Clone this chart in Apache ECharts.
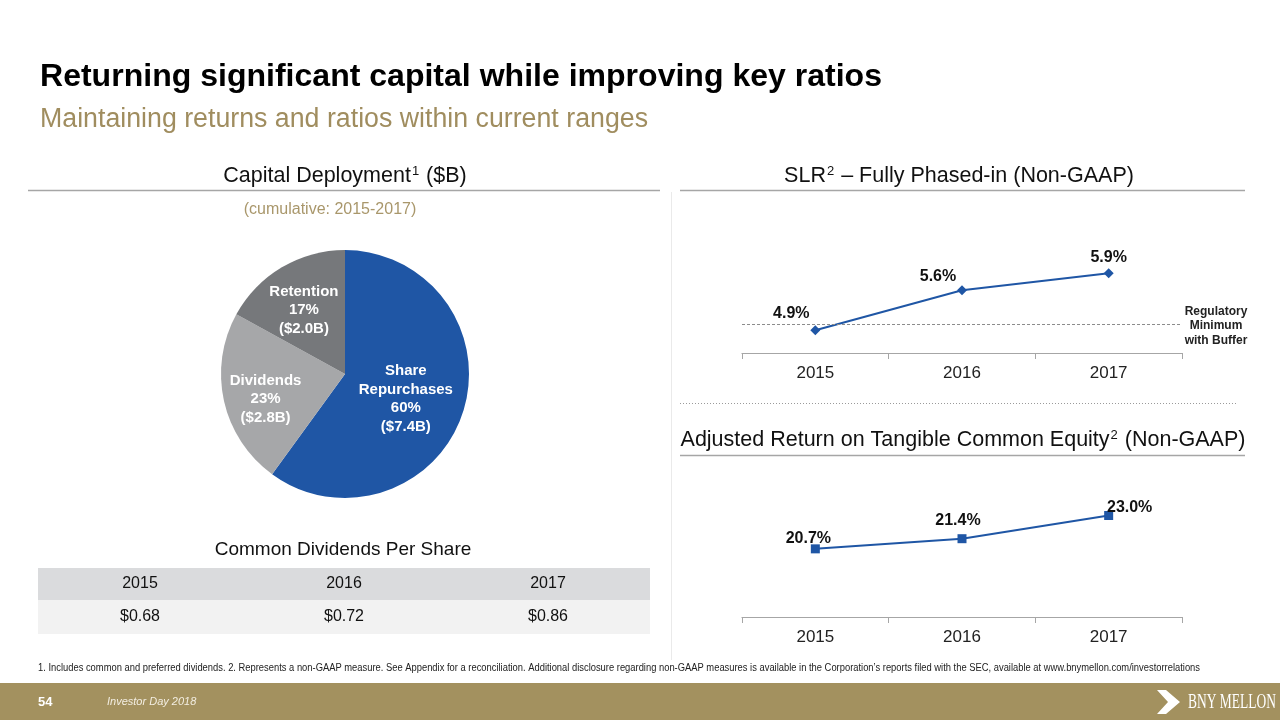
<!DOCTYPE html>
<html>
<head>
<meta charset="utf-8">
<script src="https://cdn.jsdelivr.net/npm/echarts@6/dist/echarts.min.js"></script>
<style>
html,body{margin:0;padding:0;background:#fff;}
#c{width:1280px;height:720px;}
</style>
</head>
<body>
<div id="c"></div>
<script>
// ---- data ----
const titleText = 'Returning significant capital while improving key ratios';
const subtitleText = 'Maintaining returns and ratios within current ranges';
const pieNames = ['Share\nRepurchases', 'Dividends', 'Retention'];
const piePct = [60, 23, 17];
const pieAmounts = ['$7.4B', '$2.8B', '$2.0B'];
const years = ['2015', '2016', '2017'];
const slrValues = [4.9, 5.6, 5.9];
const slrRegMin = 5.0;
const rotceValues = [20.7, 21.4, 23.0];
const dpsValues = [0.68, 0.72, 0.86];
const footnote = '1. Includes common and preferred dividends. 2. Represents a non-GAAP measure. See Appendix for a reconciliation. Additional disclosure regarding non-GAAP measures is available in the Corporation\u2019s reports filed with the SEC, available at www.bnymellon.com/investorrelations';

// ---- helpers ----
const FF = '"Liberation Sans", Arial, sans-serif';
const mctx = document.createElement('canvas').getContext('2d');
function fit(text, font, w) { mctx.font = font; return w / mctx.measureText(text).width; }
function T(text, x, y, o) {
  o = o || {};
  const size = o.size || 16, weight = o.weight || 'normal', style = o.style || 'normal';
  const fam = o.family || FF;
  const font = style + ' ' + weight + ' ' + size + 'px ' + fam;
  const sx = o.width ? fit(text, font, o.width) : 1;
  return {
    type: 'text', x: x, y: y, scaleX: sx, silent: true, z: 10,
    style: { text: text, fill: o.color || '#000', fontSize: size, fontWeight: weight, fontStyle: style,
      fontFamily: fam, align: o.align || 'left', verticalAlign: 'middle', lineHeight: o.lh }
  };
}
function RT(parts, x, y, size, color) {
  const txt = parts.map(p => p.sup ? '{s|' + p.t + '}' : '{a|' + p.t + '}').join('');
  return {
    type: 'text', x: x, y: y, silent: true, z: 10,
    style: { text: txt, align: 'center', verticalAlign: 'middle', fill: color,
      rich: { a: { fontSize: size, fontFamily: FF, fill: color, lineHeight: size + 4 },
              s: { fontSize: Math.round(size * 0.62), fontFamily: FF, fill: color, verticalAlign: 'top', lineHeight: size + 4, padding: [2, 1, 0, 1] } } }
  };
}
const gold = '#A08D5F';
const blue = '#1F56A5';
const axisGray = '#A6A6A6';

const graphics = [];
// titles
graphics.push(T(titleText, 40, 77, { size: 32, weight: 'bold', width: 842, color: '#000' }));
graphics.push(T(subtitleText, 40, 120, { size: 27, width: 608, color: gold }));
// section headers
graphics.push(RT([{ t: 'Capital Deployment' }, { t: '1', sup: true }, { t: ' ($B)' }], 345, 176, 21.5, '#111'));
graphics.push(RT([{ t: 'SLR' }, { t: '2', sup: true }, { t: ' \u2013 Fully Phased-in (Non-GAAP)' }], 959, 176, 21.5, '#111'));
graphics.push(RT([{ t: 'Adjusted Return on Tangible Common Equity' }, { t: '2', sup: true }, { t: ' (Non-GAAP)' }], 963, 440, 21.5, '#111'));
graphics.push(T('(cumulative: 2015-2017)', 330, 210, { size: 16, color: '#A9976B', align: 'center' }));
graphics.push(T('Common Dividends Per Share', 343, 550, { size: 19, color: '#111', align: 'center' }));
// separator lines
const line = (x1, y1, x2, y2, c, w, dash) => ({ type: 'line', silent: true, shape: { x1, y1, x2, y2 }, style: { stroke: c, lineWidth: w, lineDash: dash } });
graphics.push(line(28, 190.5, 660, 190.5, '#A6A6A6', 1.5));
graphics.push(line(680, 190.5, 1245, 190.5, '#A6A6A6', 1.5));
graphics.push(line(680, 455.5, 1245, 455.5, '#A6A6A6', 1.5));
graphics.push(line(680, 403.5, 1237, 403.5, '#9A9A9A', 1, [1, 2]));
graphics.push(line(671.5, 192, 671.5, 660, '#EAEAEA', 1));
// regulatory text
graphics.push(T('Regulatory\nMinimum\nwith Buffer', 1216, 326, { size: 12, weight: 'bold', color: '#222', align: 'center', lh: 14.5 }));
// dividends table
const tx0 = 38, tx1 = 650, colW = (tx1 - tx0) / years.length;
graphics.push({ type: 'rect', silent: true, shape: { x: tx0, y: 568, width: tx1 - tx0, height: 32 }, style: { fill: '#DADBDD' } });
graphics.push({ type: 'rect', silent: true, shape: { x: tx0, y: 600, width: tx1 - tx0, height: 34 }, style: { fill: '#F2F2F2' } });
years.forEach((yr, i) => {
  const cx = tx0 + colW * (i + 0.5);
  graphics.push(T(yr, cx, 584, { size: 16, color: '#111', align: 'center' }));
  graphics.push(T('$' + dpsValues[i].toFixed(2), cx, 617, { size: 16, color: '#111', align: 'center' }));
});
// footnote
graphics.push(T(footnote, 38, 668, { size: 10, width: 1162, color: '#222' }));
// footer band
graphics.push({ type: 'rect', silent: true, shape: { x: 0, y: 683, width: 1280, height: 37 }, style: { fill: '#A3915F' } });
graphics.push(T('54', 38, 702, { size: 13, weight: 'bold', color: '#fff' }));
graphics.push(T('Investor Day 2018', 107, 702, { size: 11, style: 'italic', color: '#F3EEE2' }));
graphics.push({ type: 'polygon', silent: true, z: 10, shape: { points: [[1157, 690], [1166, 690], [1180, 702], [1166, 714], [1157, 714], [1168, 702]] }, style: { fill: '#fff' } });
graphics.push(T('BNY MELLON', 1188, 702, { size: 21, color: '#fff', family: '"Liberation Serif", "DejaVu Serif", serif', width: 88 }));

const pieColors = [blue, '#A6A7A9', '#76787B'];
const pieOffsets = [[-1, 5], [-16, 11], [-8, -8]];

const option = {
  animation: false,
  graphic: graphics,
  grid: [
    { left: 742, width: 440, top: 239, height: 114 },
    { left: 742, width: 440, top: 501, height: 116 }
  ],
  xAxis: [0, 1].map(i => ({
    type: 'category', gridIndex: i, data: years, boundaryGap: true,
    axisLine: { lineStyle: { color: axisGray, width: 1.2 } },
    axisTick: { show: true, length: 6, lineStyle: { color: axisGray } },
    axisLabel: { fontSize: 17, color: '#222', fontFamily: FF, margin: 12 }
  })),
  yAxis: [
    { type: 'value', gridIndex: 0, min: 4.5, max: 6.5, show: false, splitLine: { show: false } },
    { type: 'value', gridIndex: 1, min: 16, max: 24, show: false, splitLine: { show: false } }
  ],
  series: [
    {
      type: 'pie', center: [345, 374], radius: 124, startAngle: 90, clockwise: true, silent: true,
      label: { show: true, position: 'inside', color: '#fff', fontWeight: 'bold', fontSize: 15, lineHeight: 18.5, fontFamily: FF,
        formatter: p => p.name + '\n' + piePct[p.dataIndex] + '%\n(' + pieAmounts[p.dataIndex] + ')' },
      labelLine: { show: false },
      itemStyle: { borderWidth: 0 },
      data: pieNames.map((n, i) => ({ name: n, value: piePct[i], itemStyle: { color: pieColors[i] }, label: { offset: pieOffsets[i] } }))
    },
    {
      type: 'line', xAxisIndex: 0, yAxisIndex: 0, silent: true,
      symbol: 'diamond', symbolSize: 10,
      lineStyle: { color: blue, width: 2 }, itemStyle: { color: blue },
      label: { show: true, position: 'top', fontSize: 16, fontWeight: 'bold', color: '#111', fontFamily: FF, formatter: p => p.value.toFixed(1) + '%' },
      data: slrValues.map((v, i) => ({ value: v, label: { offset: [[-24, 1], [-24, 4], [0, 2]][i] } })),
      markLine: {
        silent: true, symbol: 'none', label: { show: false },
        lineStyle: { color: '#8C8C8C', type: [3, 2], width: 1 },
        data: [{ yAxis: slrRegMin }]
      }
    },
    {
      type: 'line', xAxisIndex: 1, yAxisIndex: 1, silent: true,
      symbol: 'rect', symbolSize: 9,
      lineStyle: { color: blue, width: 2 }, itemStyle: { color: blue },
      label: { show: true, position: 'top', fontSize: 16, fontWeight: 'bold', color: '#111', fontFamily: FF, formatter: p => p.value.toFixed(1) + '%' },
      data: rotceValues.map((v, i) => ({ value: v, label: { offset: [[-7, 7], [-4, -1], [21, 10]][i] } }))
    }
  ]
};
const chart = echarts.init(document.getElementById('c'), null, { renderer: 'canvas' });
chart.setOption(option);
</script>
</body>
</html>
